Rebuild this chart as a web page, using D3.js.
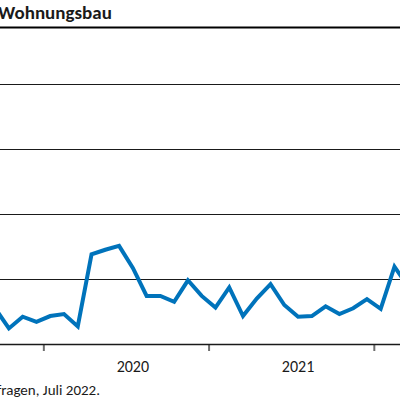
<!DOCTYPE html>
<html>
<head>
<meta charset="utf-8">
<script src="https://cdn.jsdelivr.net/npm/d3@7"></script>
<style>
  body { margin: 0; background: #fff; }
  svg { display: block; font-family: Carlito, Calibri, Lato, sans-serif; }
</style>
</head>
<body>
<div id="chart"></div>
<script>
// monthly values, Sep 2019 .. Mar 2022 (month index counted from Jan 2019)
const startMonth = 8;
const values = [5.5, 2.4, 4.2, 3.4, 4.3, 4.6, 2.7, 13.8, 14.5, 15.1, 11.7, 7.4, 7.4, 6.5, 9.8, 7.4,
                5.6, 8.7, 4.3, 7.0, 9.2, 6.0, 4.2, 4.3, 5.8, 4.6, 5.5, 6.9, 5.4, 11.9, 8.8];
const years = [2019, 2020, 2021, 2022];
const gridValues = [10, 20, 30, 40];
const title = "Wohnungsbau";
const source = "Quelle: ifo Konjunkturumfragen, Juli 2022.";

const config = {width: 400, height: 400, bottom: 344, top: 84};

const svg = d3.select("#chart")
  .append("svg")
  .attr("width", config.width)
  .attr("height", config.height);

const points = values.map((v, i) => ({m: startMonth + i + 0.5, v: v}));

const xScale = d3.scaleLinear().domain([0, 40]).range([-121.9, 428.9]);
const yScale = d3.scaleLinear().domain([0, 40]).range([config.bottom, config.top]);

// title and rule under it
svg.append("text")
  .attr("x", -2)
  .attr("y", 19)
  .attr("font-size", 19)
  .attr("font-weight", "bold")
  .attr("fill", "#1a1a1a")
  .text(title);

svg.append("line")
  .attr("x1", 0).attr("x2", config.width)
  .attr("y1", 27.5).attr("y2", 27.5)
  .attr("stroke", "#000")
  .attr("stroke-width", 2);

// gridlines
svg.append("g")
  .selectAll("line")
  .data(gridValues)
  .enter()
  .append("line")
    .attr("x1", 0).attr("x2", config.width)
    .attr("y1", d => Math.round(yScale(d)) + 0.5)
    .attr("y2", d => Math.round(yScale(d)) + 0.5)
    .attr("stroke", "#1a1a1a")
    .attr("stroke-width", 1);

// x axis: year ticks at year boundaries
const xAxis = d3.axisBottom(xScale)
  .tickValues(years.map((y, i) => i * 12))
  .tickSize(7)
  .tickFormat("");

const axisG = svg.append("g")
  .attr("transform", `translate(0,${config.bottom})`)
  .call(xAxis);
axisG.select(".domain").remove();
axisG.selectAll(".tick line").attr("stroke", "#6e6e6e").attr("stroke-width", 2);

svg.append("line")
  .attr("x1", 0).attr("x2", config.width)
  .attr("y1", config.bottom + 0.5).attr("y2", config.bottom + 0.5)
  .attr("stroke", "#1a1a1a")
  .attr("stroke-width", 1.3);

// year labels, only those that fall inside the visible area
const yearLabels = years
  .map((y, i) => ({year: y, x: xScale(i * 12 + 6.5)}))
  .filter(d => d.x > 20 && d.x < config.width - 20);

svg.append("g")
  .selectAll("text")
  .data(yearLabels)
  .enter()
  .append("text")
    .attr("x", d => d.x)
    .attr("y", 371.5)
    .attr("text-anchor", "middle")
    .attr("font-size", 16)
    .attr("fill", "#1a1a1a")
    .text(d => d.year);

// line
const line = d3.line()
  .x(d => xScale(d.m))
  .y(d => yScale(d.v));

svg.append("path")
  .datum(points)
  .attr("d", line)
  .attr("fill", "none")
  .attr("stroke", "#0073bb")
  .attr("stroke-width", 4)
  .attr("stroke-linejoin", "miter");

// source note
svg.append("text")
  .attr("x", 100)
  .attr("y", 395)
  .attr("text-anchor", "end")
  .attr("font-size", 15)
  .attr("fill", "#1a1a1a")
  .text(source);
</script>
</body>
</html>
